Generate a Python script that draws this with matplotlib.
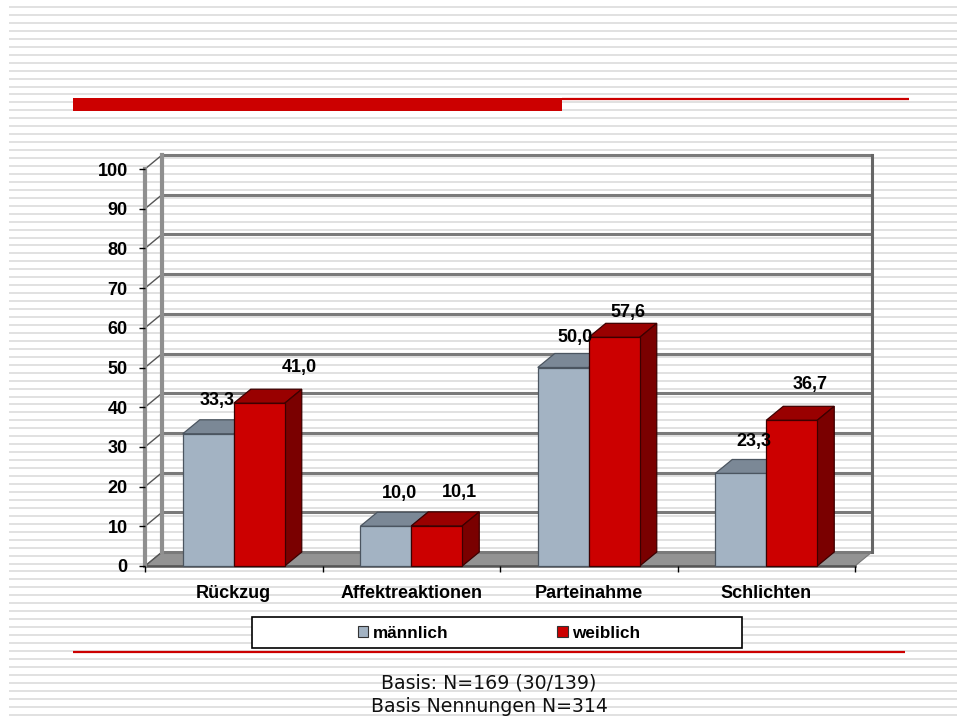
import numpy as np
import matplotlib.pyplot as plt
from matplotlib.patches import Polygon, Rectangle, Patch

categories = ['Rückzug', 'Affektreaktionen', 'Parteinahme', 'Schlichten']
maennlich = [33.3, 10.0, 50.0, 23.3]
weiblich = [41.0, 10.1, 57.6, 36.7]
series_names = ['männlich', 'weiblich']
footer = ['Basis: N=169 (30/139)', 'Basis Nennungen N=314']

# label nudges in pixels (x, y) relative to the top front centre of each bar
m_offsets = [(9, 33), (14, 33), (12, 30), (13, 32)]
w_offsets = [(40, 36), (23, 33), (14, 25), (18, 36)]

W, H = 957, 716
fig = plt.figure(figsize=(W / 100, H / 100), dpi=100)

# slide background: grey stripes, red header bar and rules
bg = fig.add_axes([0, 0, 1, 1])
bg.set_xlim(0, W)
bg.set_ylim(H, 0)
bg.axis('off')
for y in np.arange(7, H, 7.95):
    bg.plot([9, W], [y, y], color='#e1e1e1', lw=1.4, solid_capstyle='butt', zorder=1)
bg.add_patch(Rectangle((73, 98), 489, 13, color='#cc0000', lw=0, zorder=3))
bg.plot([562, 909], [99, 99], color='#cc0000', lw=1.6, solid_capstyle='butt', zorder=3)
bg.plot([73, 905], [652, 652], color='#cc0000', lw=1.6, solid_capstyle='butt', zorder=3)
bg.add_patch(Rectangle((252, 617), 490, 31, facecolor='white',
                       edgecolor='black', lw=1.2, zorder=3))
bg.text(489, 683, footer[0], ha='center', va='center', fontsize=13.6,
        family='DejaVu Sans', color='#111111', zorder=3)
bg.text(489, 706, footer[1], ha='center', va='center', fontsize=13.6,
        family='DejaVu Sans', color='#111111', zorder=3)

# front plane of the 3d chart
left, right, bottom, top = 145, 855, 566, 169
ax = fig.add_axes([left / W, (H - bottom) / H, (right - left) / W, (bottom - top) / H])
ax.patch.set_alpha(0)
n = len(categories)
ax.set_xlim(-0.5, n - 0.5)
ax.set_ylim(0, 100)
for s in ax.spines.values():
    s.set_visible(False)

px_x = (right - left) / n
px_y = (bottom - top) / 100
dx = 17 / px_x
dy = 14 / px_y
x0, x1 = -0.5, n - 0.5
fs = 13

# floor
ax.add_patch(Polygon([(x0, 0), (x1, 0), (x1 + dx, dy), (x0 + dx, dy)],
                     closed=True, facecolor='#939393', edgecolor='#777777',
                     lw=0.8, clip_on=False, zorder=1))
ax.plot([x0, x1], [0, 0], color='#555555', lw=1.8, clip_on=False, zorder=1)

# walls and gridlines
ticks = np.arange(0, 101, 10)
for v in ticks:
    ax.plot([x0 + dx, x1 + dx], [v + dy, v + dy], color='#7a7a7a', lw=2.2,
            clip_on=False, zorder=1, solid_capstyle='butt')
    ax.plot([x0, x0 + dx], [v, v + dy], color='#555555', lw=1,
            clip_on=False, zorder=1)
ax.plot([x0, x0], [0, 100], color='#8f8f8f', lw=3, clip_on=False, zorder=1)
ax.plot([x0 + dx, x0 + dx], [dy, 100 + dy], color='#8f8f8f', lw=3,
        clip_on=False, zorder=1)
ax.plot([x1 + dx, x1 + dx], [dy, 100 + dy], color='#666666', lw=2.2,
        clip_on=False, zorder=1)

ax.set_yticks(ticks)
ax.set_yticklabels([str(t) for t in ticks], fontsize=fs, fontweight='bold',
                   family='Liberation Sans')
ax.tick_params(axis='y', length=4, width=1, pad=8.5, color='black')
ax.set_xticks(range(n))
ax.set_xticklabels(categories, fontsize=fs, fontweight='bold',
                   family='Liberation Sans')
ax.tick_params(axis='x', length=0, pad=14)
ax.set_xticks(np.arange(-0.5, n, 1), minor=True)
ax.tick_params(axis='x', which='minor', length=4, width=1, color='black')


def bar3d(xa, xb, v, front, topc, side, edge, z):
    ax.add_patch(Polygon([(xa, v), (xb, v), (xb + dx, v + dy), (xa + dx, v + dy)],
                         closed=True, facecolor=topc, edgecolor=edge, lw=0.9,
                         clip_on=False, zorder=z))
    ax.add_patch(Polygon([(xb, 0), (xb + dx, dy), (xb + dx, v + dy), (xb, v)],
                         closed=True, facecolor=side, edgecolor=edge, lw=0.9,
                         clip_on=False, zorder=z))
    ax.add_patch(Rectangle((xa, 0), xb - xa, v, facecolor=front, edgecolor=edge,
                           lw=0.9, clip_on=False, zorder=z))


bw = 51 / px_x
for i in range(n):
    bar3d(i - bw, i, maennlich[i], '#a3b3c3', '#7b8896', '#6c7886', '#4b5560', 3 + 2 * i)
    bar3d(i, i + bw, weiblich[i], '#cc0000', '#990000', '#7a0000', '#3d0000', 4 + 2 * i)

lab = dict(ha='center', va='center', fontsize=fs, fontweight='bold',
           family='Liberation Sans', textcoords='offset pixels', zorder=20,
           annotation_clip=False)
for i in range(n):
    ax.annotate(f'{maennlich[i]:.1f}'.replace('.', ','), (i - bw / 2, maennlich[i]),
                xytext=m_offsets[i], **lab)
    ax.annotate(f'{weiblich[i]:.1f}'.replace('.', ','), (i + bw / 2, weiblich[i]),
                xytext=w_offsets[i], **lab)

# legend inside the boxed area under the chart
handles = [Patch(facecolor='#a3b3c3', edgecolor='#333333', lw=0.8),
           Patch(facecolor='#cc0000', edgecolor='#333333', lw=0.8)]
fig.legend(handles, series_names, loc='center', bbox_to_anchor=(499 / W, (H - 633) / H),
           ncol=2, frameon=False, prop={'family': 'Liberation Sans', 'weight': 'bold',
                                        'size': 12.3},
           handlelength=0.6, handleheight=0.6, handletextpad=0.25, columnspacing=6.4)

fig.savefig('out.png', dpi=100)
